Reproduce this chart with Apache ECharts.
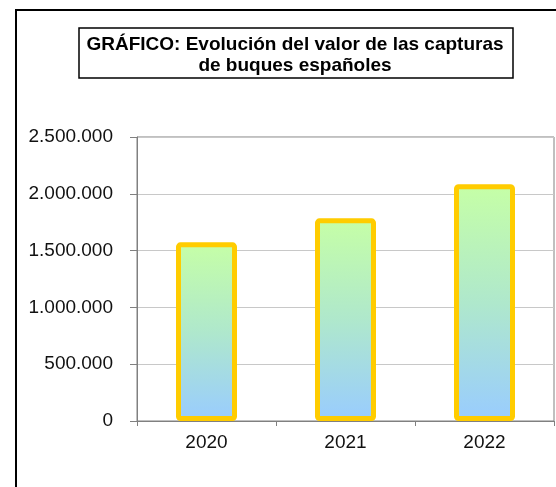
<!DOCTYPE html>
<html lang="es">
  <head>
    <meta charset="UTF-8" />
    <title>Evolución del valor de las capturas</title>
    <script src="https://cdn.jsdelivr.net/npm/echarts@6.0.0/dist/echarts.min.js"></script>
    <style>
      html, body { margin: 0; padding: 0; background: #fff; }
    </style>
  </head>
  <body>
    <div id="main" style="width: 556px; height: 487px"></div>
    <script type="text/javascript">
      // data
      const years = ["2020", "2021", "2022"];
      const valores = [1573000, 1784000, 2084000];
      const yTicks = [0, 500000, 1000000, 1500000, 2000000, 2500000];

      // thousands with dots, Spanish style
      function fmt(v) {
        return String(v).replace(/\B(?=(\d{3})+(?!\d))/g, ".");
      }

      let myChart = echarts.init(document.getElementById("main"));

      let options = {
        backgroundColor: "#fff",
        animation: false,
        textStyle: { fontFamily: "Liberation Sans, Arial, sans-serif" },
        graphic: [
          // outer frame, cut off at right and bottom
          {
            type: "rect",
            shape: { x: 16, y: 10, width: 620, height: 600 },
            style: { fill: null, stroke: "#000", lineWidth: 2 },
            z: 0,
          },
          // title box
          {
            type: "rect",
            shape: { x: 79, y: 28, width: 434, height: 50 },
            style: { fill: "#fff", stroke: "#000", lineWidth: 1.5 },
            z: 10,
          },
          {
            type: "text",
            x: 295,
            y: 55,
            style: {
              text: "GRÁFICO: Evolución del valor de las capturas\nde buques españoles",
              font: "bold 19px 'Liberation Sans', Arial, sans-serif",
              fill: "#000",
              align: "center",
              verticalAlign: "middle",
              lineHeight: 21,
            },
            z: 11,
          },
        ],
        grid: {
          left: 137,
          right: 2,
          top: 137,
          bottom: 66,
          show: true,
          borderColor: "#808080",
          borderWidth: 1,
        },
        xAxis: {
          type: "category",
          data: years,
          axisLine: { lineStyle: { color: "#808080", width: 1 } },
          axisTick: { show: true, length: 5, lineStyle: { color: "#808080" } },
          axisLabel: { color: "#111", fontSize: 19, margin: 12 },
        },
        yAxis: {
          type: "value",
          min: yTicks[0],
          max: yTicks[yTicks.length - 1],
          interval: yTicks[1] - yTicks[0],
          axisLine: { show: true, lineStyle: { color: "#808080", width: 1 } },
          axisTick: { show: true, length: 7, lineStyle: { color: "#808080" } },
          splitLine: { lineStyle: { color: "#c8c8c8", width: 1 } },
          axisLabel: {
            color: "#111",
            fontSize: 19,
            margin: 24,
            formatter: fmt,
          },
        },
        series: [
          {
            type: "bar",
            data: valores,
            barWidth: 61,
            itemStyle: {
              color: new echarts.graphic.LinearGradient(0, 0, 0, 1, [
                { offset: 0, color: "#c6ffa6" },
                { offset: 0.5, color: "#afe8cc" },
                { offset: 1, color: "#99ccff" },
              ]),
              borderColor: "#ffcc00",
              borderWidth: 5,
              borderRadius: 2,
            },
          },
        ],
      };

      myChart.setOption(options);
    </script>
  </body>
</html>
